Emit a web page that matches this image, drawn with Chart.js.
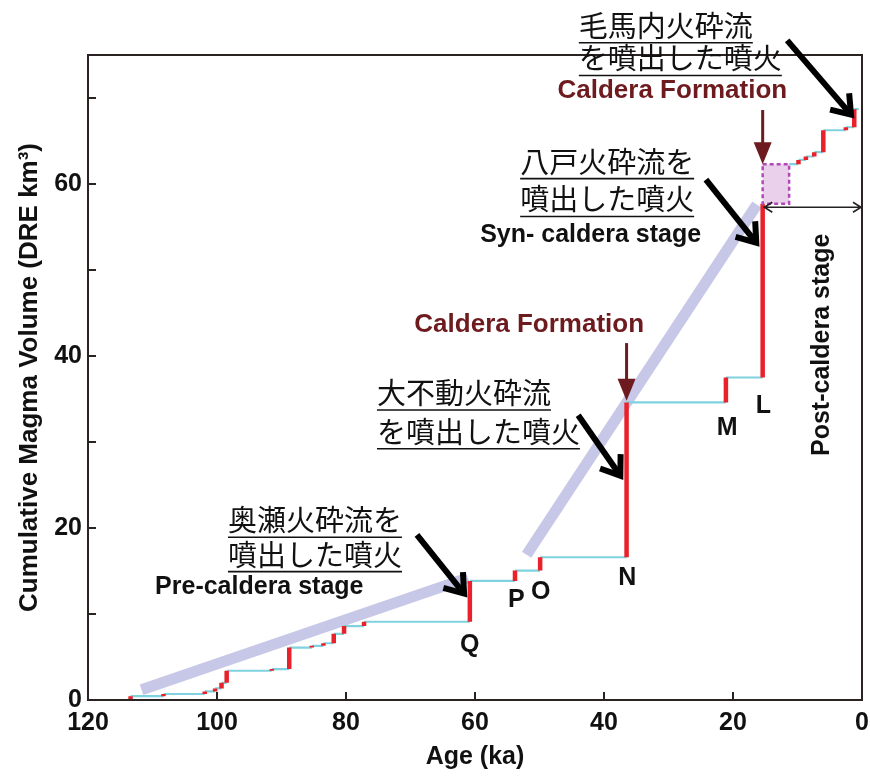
<!DOCTYPE html>
<html>
<head>
<meta charset="utf-8">
<script src="https://cdn.jsdelivr.net/npm/chart.js@4.4.1/dist/chart.umd.min.js"></script>
<style>
  body { margin: 0; background: #fff; }
  canvas { display: block; }
</style>
</head>
<body>
<canvas id="chart" width="870" height="778"></canvas>
<script>
// --- Data ---

// eruption ages (ka) with cumulative DRE volume (km3) before / after each eruption
const eruptionAge = [113.4, 108.3, 101.9, 100.3, 99.3, 98.5, 91.5, 88.8, 85.3, 83.5, 81.9, 80.3, 77.2,
                     60.8, 53.8, 49.9, 36.5, 21.1, 15.4,
                     9.85, 8.7, 7.4, 6.0, 2.5, 1.2];
const volBefore   = [0.1, 0.45, 0.7, 1.0, 1.35, 2.0, 3.4, 3.6, 6.1, 6.3, 6.6, 7.7, 8.6,
                     9.1, 13.85, 15.05, 16.6, 34.6, 37.5,
                     62.3, 62.8, 63.2, 63.7, 66.25, 66.6];
const volAfter    = [0.45, 0.7, 1.0, 1.35, 2.0, 3.4, 3.6, 6.1, 6.3, 6.6, 7.7, 8.6, 9.1,
                     13.85, 15.05, 16.6, 34.6, 37.5, 57.7,
                     62.8, 63.2, 63.7, 66.25, 66.6, 68.7];
const presentAge = 0.5;

// lettered pyroclastic units
const unitLabels = ["Q", "P", "O", "N", "M", "L"];
const unitAge    = [60.8, 53.6, 49.8, 36.4, 20.9, 15.3];
const unitVol    = [6.4, 11.6, 12.6, 14.2, 31.6, 34.2];

// caldera collapse volume (dashed box)
const calderaBoxAge = [15.4, 11.3];
const calderaBoxVol = [57.7, 62.3];

// trend bands
const preTrendAge = [111.7, 61.1];
const preTrendVol = [1.2, 14.2];
const synTrendAge = [52.0, 16.3];
const synTrendVol = [16.9, 57.6];

// axis ticks
const xTickStep = 20;
const yTickStep = 10;
const yLabelTicks = [0, 20, 40, 60];

const FONT = "'Liberation Sans', Arial, sans-serif";
const JP_FONT = "'Noto Sans CJK JP', sans-serif";
const RED = "#e8212b";
const CYAN = "#7fd2de";
const LAVENDER = "rgba(196, 196, 230, 0.95)";
const DARK_RED = "#6d1b1e";

// --- Build step segments (null breaks the line) ---
const riseData = [];
const flatData = [];
eruptionAge.forEach((age, i) => {
    riseData.push({ x: age, y: volBefore[i] }, { x: age, y: volAfter[i] }, { x: age, y: null });
    const last = i === eruptionAge.length - 1;
    const nextAge = last ? presentAge : eruptionAge[i + 1];
    const level = last ? volAfter[i] : volBefore[i + 1];
    const start = level === volAfter[i] ? age : calderaBoxAge[1];
    flatData.push({ x: start, y: level }, { x: nextAge, y: level }, { x: nextAge, y: null });
});

const toPoints = (xs, ys) => xs.map((x, i) => ({ x, y: ys[i] }));

// --- Annotations (data coordinates) ---
const jpNotes = [
    { lines: ["毛馬内火砕流", "を噴出した噴火"], age: 43.9, vol: [78.4, 74.6] },
    { lines: ["八戸火砕流を", "噴出した噴火"], age: 53.0, vol: [62.6, 58.2] },
    { lines: ["大不動火砕流", "を噴出した噴火"], age: 75.2, vol: [35.7, 31.2] },
    { lines: ["奥瀬火砕流を", "噴出した噴火"], age: 98.3, vol: [20.9, 16.9] },
];
const stageNotes = [
    { text: "Syn- caldera stage", age: 59.2, vol: 54.0 },
    { text: "Pre-caldera stage", age: 109.6, vol: 13.1 },
];
const calderaNotes = [
    { age: 29.4, vol: 70.8, arrowAge: 15.4, arrowFrom: 68.6, arrowTo: 62.3 },
    { age: 51.6, vol: 43.6, arrowAge: 36.5, arrowFrom: 41.5, arrowTo: 34.8 },
];
const blackArrows = [
    [69.0, 19.2, 61.4, 12.1],
    [44.0, 33.1, 37.2, 25.8],
    [24.2, 60.5, 16.1, 52.9],
    [11.6, 76.7, 1.4, 67.8],
];

function drawChevronArrow(ctx, x1, y1, x2, y2, width, head) {
    const a = Math.atan2(y2 - y1, x2 - x1);
    ctx.save();
    ctx.strokeStyle = "#000";
    ctx.lineWidth = width;
    ctx.lineCap = "butt";
    ctx.lineJoin = "miter";
    ctx.beginPath();
    ctx.moveTo(x1, y1);
    ctx.lineTo(x2 - Math.cos(a) * width, y2 - Math.sin(a) * width);
    ctx.stroke();
    ctx.beginPath();
    ctx.moveTo(x2 - head * Math.cos(a - 0.55), y2 - head * Math.sin(a - 0.55));
    ctx.lineTo(x2 - Math.cos(a) * 3, y2 - Math.sin(a) * 3);
    ctx.lineTo(x2 - head * Math.cos(a + 0.55), y2 - head * Math.sin(a + 0.55));
    ctx.stroke();
    ctx.restore();
}

const decorPlugin = {
    id: "decor",
    beforeDraw(chart) {
        const { ctx } = chart;
        ctx.save();
        ctx.fillStyle = "#fff";
        ctx.fillRect(0, 0, chart.width, chart.height);
        ctx.restore();
    },
    afterDatasetsDraw(chart) {
        const { ctx, chartArea: ca } = chart;
        const xs = chart.scales.x, ys = chart.scales.y;
        const X = v => xs.getPixelForValue(v);
        const Y = v => ys.getPixelForValue(v);

        // caldera box
        ctx.save();
        const bx = X(calderaBoxAge[0]), bx2 = X(calderaBoxAge[1]);
        const by = Y(calderaBoxVol[1]), by2 = Y(calderaBoxVol[0]);
        ctx.fillStyle = "rgba(232, 200, 232, 0.85)";
        ctx.fillRect(bx, by, bx2 - bx, by2 - by);
        ctx.strokeStyle = "#b048b8";
        ctx.lineWidth = 2.5;
        ctx.setLineDash([4, 3]);
        ctx.strokeRect(bx, by, bx2 - bx, by2 - by);
        ctx.restore();

        // frame and inward ticks
        ctx.save();
        ctx.strokeStyle = "#2b2222";
        ctx.lineWidth = 2;
        ctx.strokeRect(ca.left, ca.top, ca.right - ca.left, ca.bottom - ca.top);
        ctx.beginPath();
        for (let v = xTickStep; v < xs.max; v += xTickStep) {
            ctx.moveTo(X(v), ca.bottom);
            ctx.lineTo(X(v), ca.bottom - 8);
        }
        for (let v = yTickStep; v < ys.max; v += yTickStep) {
            ctx.moveTo(ca.left, Y(v));
            ctx.lineTo(ca.left + 8, Y(v));
        }
        ctx.stroke();
        ctx.restore();

        ctx.save();
        blackArrows.forEach(a => drawChevronArrow(ctx, X(a[0]), Y(a[1]), X(a[2]), Y(a[3]), 6, 24));

        // caldera formation labels + dark red arrows
        calderaNotes.forEach(n => {
            ctx.fillStyle = DARK_RED;
            ctx.font = "bold 26px " + FONT;
            ctx.textAlign = "center";
            ctx.textBaseline = "middle";
            ctx.fillText("Caldera Formation", X(n.age), Y(n.vol));
            const ax = X(n.arrowAge), y1 = Y(n.arrowFrom), y2 = Y(n.arrowTo);
            ctx.strokeStyle = DARK_RED;
            ctx.lineWidth = 3;
            ctx.beginPath();
            ctx.moveTo(ax, y1);
            ctx.lineTo(ax, y2 - 18);
            ctx.stroke();
            ctx.beginPath();
            ctx.moveTo(ax - 9, y2 - 22);
            ctx.lineTo(ax + 9, y2 - 22);
            ctx.lineTo(ax, y2);
            ctx.closePath();
            ctx.fill();
        });

        // japanese notes, underlined
        ctx.fillStyle = "#111";
        ctx.strokeStyle = "#111";
        ctx.font = "29px " + JP_FONT;
        ctx.textAlign = "left";
        ctx.textBaseline = "middle";
        jpNotes.forEach(n => {
            n.lines.forEach((line, i) => {
                const x = X(n.age), y = Y(n.vol[i]);
                ctx.fillText(line, x, y);
                const w = ctx.measureText(line).width;
                ctx.lineWidth = 1.6;
                ctx.beginPath();
                ctx.moveTo(x, y + 17);
                ctx.lineTo(x + w, y + 17);
                ctx.stroke();
            });
        });

        // stage labels
        ctx.font = "bold 25px " + FONT;
        stageNotes.forEach(n => ctx.fillText(n.text, X(n.age), Y(n.vol)));

        // unit letters
        ctx.textAlign = "center";
        unitLabels.forEach((t, i) => ctx.fillText(t, X(unitAge[i]), Y(unitVol[i])));

        // post-caldera stage
        ctx.save();
        ctx.translate(X(6.2), Y(41.3));
        ctx.rotate(-Math.PI / 2);
        ctx.fillText("Post-caldera stage", 0, 0);
        ctx.restore();

        // double arrow for post-caldera span
        const dy = Y(57.3), dx1 = X(15.3), dx2 = X(0);
        ctx.strokeStyle = "#222";
        ctx.lineWidth = 1.6;
        ctx.beginPath();
        ctx.moveTo(dx1, dy); ctx.lineTo(dx2, dy);
        ctx.moveTo(dx1 + 9, dy - 5); ctx.lineTo(dx1 + 1, dy); ctx.lineTo(dx1 + 9, dy + 5);
        ctx.moveTo(dx2 - 9, dy - 5); ctx.lineTo(dx2 - 1, dy); ctx.lineTo(dx2 - 9, dy + 5);
        ctx.stroke();
        ctx.restore();
    },
};

new Chart(document.getElementById("chart"), {
    type: "line",
    data: {
        datasets: [
            { label: "eruptions", data: riseData, borderColor: RED, borderWidth: 4.5, borderCapStyle: "butt", order: 1 },
            { label: "repose", data: flatData, borderColor: CYAN, borderWidth: 2.2, order: 2 },
            { label: "pre-caldera trend", data: toPoints(preTrendAge, preTrendVol), borderColor: LAVENDER, borderWidth: 11, borderCapStyle: "butt", order: 3 },
            { label: "syn-caldera trend", data: toPoints(synTrendAge, synTrendVol), borderColor: LAVENDER, borderWidth: 11, borderCapStyle: "butt", order: 3 },
        ],
    },
    options: {
        responsive: false,
        animation: false,
        spanGaps: false,
        elements: { point: { radius: 0, hoverRadius: 0 }, line: { tension: 0 } },
        layout: { padding: { left: 0, right: 8, top: 55, bottom: 0 } },
        plugins: { legend: { display: false }, tooltip: { enabled: false } },
        scales: {
            x: {
                type: "linear",
                min: 0,
                max: 120,
                reverse: true,
                ticks: {
                    stepSize: xTickStep,
                    maxRotation: 0,
                    padding: 8,
                    color: "#111",
                    font: { size: 25, weight: "bold", family: FONT },
                },
                grid: { display: false, drawTicks: false },
                border: { display: false },
                title: {
                    display: true,
                    text: "Age (ka)",
                    color: "#111",
                    font: { size: 25, weight: "bold", family: FONT },
                    padding: { top: 0, bottom: 6 },
                },
                afterFit: s => { s.height = 78; s.paddingLeft = 0; s.paddingRight = 0; },
            },
            y: {
                min: 0,
                max: 75,
                ticks: {
                    stepSize: yTickStep,
                    includeBounds: false,
                    padding: 6,
                    color: "#111",
                    font: { size: 25, weight: "bold", family: FONT },
                    callback: v => yLabelTicks.includes(v) ? v : "",
                },
                grid: { display: false, drawTicks: false },
                border: { display: false },
                title: {
                    display: true,
                    text: "Cumulative Magma Volume (DRE km³)",
                    color: "#111",
                    font: { size: 26, weight: "bold", family: FONT },
                    padding: { top: 14, bottom: 0 },
                },
                afterFit: s => { s.width = 88; s.paddingTop = 0; s.paddingBottom = 0; },
            },
        },
    },
    plugins: [decorPlugin],
});
</script>
</body>
</html>
